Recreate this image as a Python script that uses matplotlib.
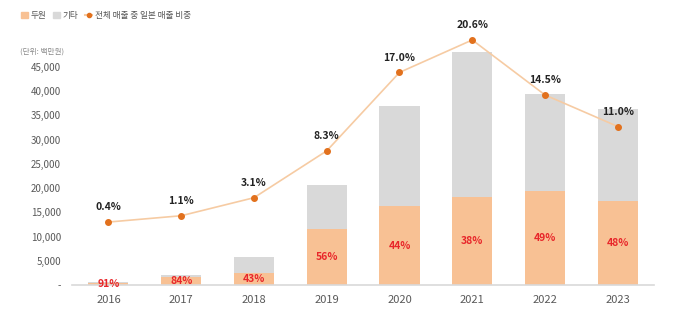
import matplotlib
matplotlib.use('Agg')
import matplotlib.pyplot as plt
import numpy as np
from matplotlib.patches import Patch
from matplotlib.lines import Line2D

plt.rcParams['font.family'] = ['Noto Sans CJK KR', 'DejaVu Sans']

### Données
annees = ['2016', '2017', '2018', '2019', '2020', '2021', '2022', '2023']
total = np.array([550, 2000, 5800, 20700, 37000, 48000, 39500, 36300])  # 백만원
duwon = np.array([500, 1680, 2500, 11600, 16300, 18200, 19400, 17400])
part_duwon = ['91%', '84%', '43%', '56%', '44%', '38%', '49%', '48%']
ratio_japon = np.array([0.4, 1.1, 3.1, 8.3, 17.0, 20.6, 14.5, 11.0])  # %
autres = total - duwon

c_duwon = '#F8C194'
c_autre = '#D9D9D9'
c_ligne = '#F6CBA3'
c_point = '#E2711D'
c_rouge = '#E8262A'
c_gris = '#595959'

fig = plt.figure(figsize=(6.8, 3.27), dpi=100)
ax = fig.add_axes([0.106, 0.128, 0.856, 0.771])
x = np.arange(len(annees))
w = 0.55

ax.bar(x, duwon, w, color=c_duwon, zorder=2)
ax.bar(x, autres, w, bottom=duwon, color=c_autre, zorder=2)

for i in range(len(x)):
    ax.text(x[i], duwon[i]/2, part_duwon[i], ha='center', va='center',
            color=c_rouge, fontsize=7.5, fontweight='semibold', zorder=3)

ax.set_xlim(-0.5, 7.5)
ax.set_ylim(0, 52000)
ax.set_xticks(x)
ax.set_xticklabels(annees, fontsize=8, color=c_gris)
yt = np.arange(0, 45001, 5000)
ax.set_yticks(yt)
ax.set_yticklabels(['-'] + ['{:,}'.format(v) for v in yt[1:]], fontsize=7, color=c_gris)
ax.tick_params(length=0, pad=8)
ax.tick_params(axis='x', pad=7)
for s in ['top', 'right', 'left']:
    ax.spines[s].set_visible(False)
ax.spines['bottom'].set_color('#D9D9D9')
ax.spines['bottom'].set_linewidth(1.2)

# axe secondaire pour le ratio
ax2 = ax.twinx()
ax2.set_ylim(-6.6, 21.37)
ax2.plot(x, ratio_japon, color=c_ligne, lw=1.2, zorder=3)
ax2.plot(x, ratio_japon, 'o', color=c_point, ms=4, zorder=4)
for i in range(len(x)):
    ax2.text(x[i], ratio_japon[i] + 1.1, '{:.1f}%'.format(ratio_japon[i]),
             ha='center', va='bottom', fontsize=7.5, fontweight='semibold', color='#222222')
ax2.axis('off')

fig.text(0.029, 0.841, '(단위: 백만원)', fontsize=5.5, color='#888888', va='center')

handles = [Patch(color=c_duwon), Patch(color=c_autre),
           Line2D([0], [0], color=c_ligne, marker='o', mfc=c_point, mec=c_point, ms=3)]
fig.legend(handles, ['두원', '기타', '전체 매출 중 일본 매출 비중'], loc='upper left',
           bbox_to_anchor=(0.022, 0.985), ncol=3, frameon=False, fontsize=6.2,
           handlelength=0.8, handleheight=0.7, handletextpad=0.3, columnspacing=0.8,
           labelcolor='#555555', borderaxespad=0.3)

plt.savefig('out.png', dpi=100)
